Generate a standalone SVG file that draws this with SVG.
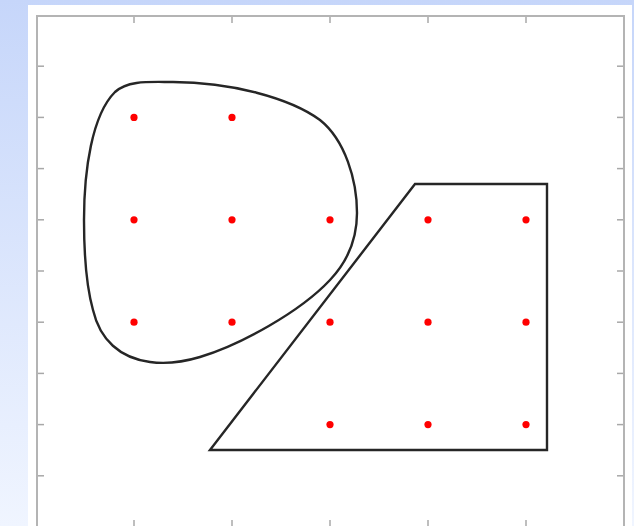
<svg xmlns="http://www.w3.org/2000/svg" width="634" height="526" viewBox="0 0 634 526">
<defs>
<linearGradient id="bg" x1="0" y1="0" x2="0" y2="1">
<stop offset="0" stop-color="#c6d6fa"/>
<stop offset="1" stop-color="#f0f5ff"/>
</linearGradient>
</defs>
<style>
.frame{fill:none;stroke:#b4b4b4;stroke-width:2}
.tick{stroke:#a8a8a8;stroke-width:1.5}
.shape{fill:none;stroke:#262626;stroke-width:2.4;stroke-linejoin:miter}
.dot{fill:#ff0000}
</style>
<rect x="0" y="0" width="634" height="526" fill="url(#bg)"/>
<rect x="28" y="5" width="604" height="530" fill="#ffffff"/>
<g id="axes">
<rect class="frame" x="37" y="16" width="587" height="512"/>
<g class="tick">
<line x1="38" y1="66.2" x2="44" y2="66.2"/><line x1="38" y1="117.4" x2="44" y2="117.4"/>
<line x1="38" y1="168.6" x2="44" y2="168.6"/><line x1="38" y1="219.8" x2="44" y2="219.8"/>
<line x1="38" y1="271" x2="44" y2="271"/><line x1="38" y1="322.2" x2="44" y2="322.2"/>
<line x1="38" y1="373.4" x2="44" y2="373.4"/><line x1="38" y1="424.6" x2="44" y2="424.6"/>
<line x1="38" y1="475.8" x2="44" y2="475.8"/>
<line x1="617" y1="66.2" x2="623" y2="66.2"/><line x1="617" y1="117.4" x2="623" y2="117.4"/>
<line x1="617" y1="168.6" x2="623" y2="168.6"/><line x1="617" y1="219.8" x2="623" y2="219.8"/>
<line x1="617" y1="271" x2="623" y2="271"/><line x1="617" y1="322.2" x2="623" y2="322.2"/>
<line x1="617" y1="373.4" x2="623" y2="373.4"/><line x1="617" y1="424.6" x2="623" y2="424.6"/>
<line x1="617" y1="475.8" x2="623" y2="475.8"/>
<line x1="134" y1="17" x2="134" y2="23"/><line x1="232" y1="17" x2="232" y2="23"/>
<line x1="330" y1="17" x2="330" y2="23"/><line x1="428" y1="17" x2="428" y2="23"/>
<line x1="526" y1="17" x2="526" y2="23"/>
<line x1="134" y1="520" x2="134" y2="527"/><line x1="232" y1="520" x2="232" y2="527"/>
<line x1="330" y1="520" x2="330" y2="527"/><line x1="428" y1="520" x2="428" y2="527"/>
<line x1="526" y1="520" x2="526" y2="527"/>
</g>
</g>
<g id="blob">
<path class="shape" d="M 173 82 C 230 82, 290 98, 320 120 C 345 140, 357 180, 357 213 C 357 240, 347 262, 330 280 C 300 312, 240 345, 200 357 C 180 363, 165 364, 150 362 C 120 358, 100 340, 93 310 C 86 285, 84 250, 84 220 C 84 170, 92 115, 115 92 C 128 80, 150 82, 173 82 Z"/>
</g>
<g id="trapezoid">
<polygon class="shape" points="210,450 415,184 547,184 547,450"/>
</g>
<g id="points">
<circle class="dot" cx="134" cy="117.4" r="3.6"/><circle class="dot" cx="232" cy="117.4" r="3.6"/>
<circle class="dot" cx="134" cy="219.8" r="3.6"/><circle class="dot" cx="232" cy="219.8" r="3.6"/>
<circle class="dot" cx="330" cy="219.8" r="3.6"/><circle class="dot" cx="428" cy="219.8" r="3.6"/>
<circle class="dot" cx="526" cy="219.8" r="3.6"/>
<circle class="dot" cx="134" cy="322.2" r="3.6"/><circle class="dot" cx="232" cy="322.2" r="3.6"/>
<circle class="dot" cx="330" cy="322.2" r="3.6"/><circle class="dot" cx="428" cy="322.2" r="3.6"/>
<circle class="dot" cx="526" cy="322.2" r="3.6"/>
<circle class="dot" cx="330" cy="424.6" r="3.6"/><circle class="dot" cx="428" cy="424.6" r="3.6"/>
<circle class="dot" cx="526" cy="424.6" r="3.6"/>
</g>
</svg>
